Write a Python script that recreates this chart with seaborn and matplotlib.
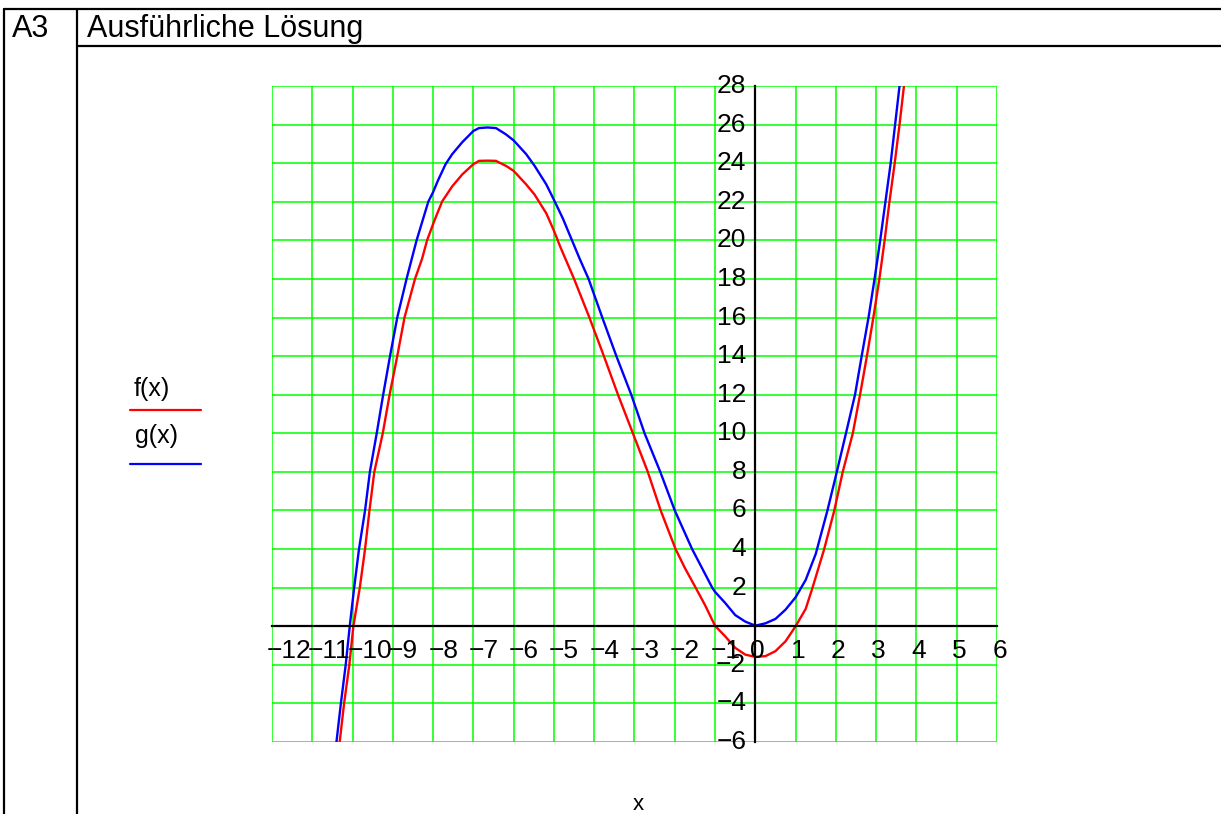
import matplotlib
matplotlib.use("Agg")
import matplotlib.pyplot as plt
import seaborn as sns
from matplotlib.lines import Line2D

# values: f(x) red, g(x) blue
f_x = [-10.32, -10.21, -10.08, -9.98, -9.82, -9.69, -9.58, -9.46, -9.25, -9.08,
       -8.89, -8.71, -8.45, -8.275, -8.15, -7.98, -7.775, -7.525, -7.275, -7.00,
       -6.86, -6.65, -6.44, -6.19, -6.00, -5.69, -5.48, -5.19, -5.00, -4.84,
       -4.50, -4.12, -3.76, -3.41, -3.04, -2.67, -2.35, -1.98, -1.75, -1.50,
       -1.25, -1.00, -0.75, -0.50, -0.25, 0.00, 0.25, 0.50, 0.75, 1.00,
       1.25, 1.42, 1.71, 1.96, 2.17, 2.42, 2.60, 2.77, 2.93, 3.08,
       3.21, 3.33, 3.46, 3.58, 3.69]
f_y = [-6, -4, -2, 0, 2, 4, 6, 8, 10, 12,
       14, 16, 18, 19.04, 20, 20.96, 22.02, 22.8, 23.42, 23.95,
       24.12, 24.13, 24.12, 23.86, 23.6, 22.9, 22.37, 21.4, 20.5, 19.65,
       18, 16, 14, 12, 10, 8, 6, 4, 3.02, 2.07,
       1.1, 0.02, -0.52, -1.12, -1.47, -1.59, -1.55, -1.29, -0.78, 0,
       0.9, 2, 4, 6, 8, 10, 12, 14, 16, 18,
       20, 22, 24, 26, 28]

g_x = [-10.40, -10.29, -10.17, -10.07, -9.96, -9.84, -9.69, -9.57, -9.40, -9.24,
       -9.07, -8.89, -8.66, -8.41, -8.12, -8.00, -7.88, -7.69, -7.525, -7.275,
       -7.00, -6.86, -6.65, -6.44, -6.19, -6.00, -5.69, -5.48, -5.19, -5.00,
       -4.78, -4.57, -4.36, -4.14, -3.80, -3.45, -3.08, -2.75, -2.36, -2.00,
       -1.57, -1.07, -1.00, -0.75, -0.50, -0.25, 0.00, 0.25, 0.50, 0.75,
       1.00, 1.25, 1.50, 1.79, 2.00, 2.25, 2.475, 2.64, 2.81,
       2.96, 3.10, 3.23, 3.36, 3.47, 3.58]
g_y = [-6, -4, -2, 0, 2, 4, 6, 8, 10, 12,
       14, 16, 18, 20, 22, 22.5, 23.1, 23.95, 24.47, 25.09,
       25.67, 25.82, 25.85, 25.82, 25.49, 25.18, 24.47, 23.86, 22.9, 22.1,
       21.14, 20.09, 19.04, 18, 16, 14, 12, 10, 8, 6,
       4, 2, 1.78, 1.21, 0.58, 0.24, 0.03, 0.15, 0.38, 0.86,
       1.5, 2.4, 3.75, 6, 7.8, 10, 12, 14, 16,
       18, 20, 22, 24, 26, 28]

x_ticks = list(range(-12, 7))
y_ticks = list(range(-6, 29, 2))

W, H = 1221, 814

sns.set_style("white")
plt.rcParams["font.family"] = ["Liberation Sans", "DejaVu Sans"]
plt.rcParams["text.color"] = "black"


def fx(px):
    return px / W


def fy(py):
    return 1 - py / H


fig = plt.figure(figsize=(W / 100, H / 100), dpi=100)

# table frame around the solution
frame = [
    ([4, 4], [9, H]),
    ([4, W], [9, 9]),
    ([77, 77], [9, H]),
    ([77, W], [46, 46]),
]
for xs, ys in frame:
    fig.add_artist(Line2D([fx(v) for v in xs], [fy(v) for v in ys],
                          color="black", lw=1.6, transform=fig.transFigure))
fig.text(fx(12), fy(29), "A3", fontsize=22, va="center", ha="left")
fig.text(fx(87), fy(29), "Ausführliche Lösung", fontsize=22, va="center", ha="left")

ax = fig.add_axes([fx(272), fy(742), 725 / W, 656 / H])

sns.lineplot(x=f_x, y=f_y, ax=ax, color="#ff0000", lw=1.7, estimator=None,
             sort=False, solid_joinstyle="round")
sns.lineplot(x=g_x, y=g_y, ax=ax, color="#0000ff", lw=1.7, estimator=None,
             sort=False, solid_joinstyle="round")

ax.set_xlim(-12, 6)
ax.set_ylim(-6, 28)
ax.set_xticks(x_ticks)
ax.set_yticks(y_ticks)
ax.grid(True, color="#00ff00", lw=1.1)
ax.set_axisbelow(True)
for gl in ax.get_xgridlines() + ax.get_ygridlines():
    gl.set_clip_on(False)

ax.spines["left"].set_position("zero")
ax.spines["bottom"].set_position("zero")
ax.spines["top"].set_visible(False)
ax.spines["right"].set_visible(False)
for s in ("left", "bottom"):
    ax.spines[s].set_linewidth(1.6)
    ax.spines[s].set_color("black")
    ax.spines[s].set_zorder(3)
ax.tick_params(axis="x", direction="inout", length=12, width=1.4,
               labelbottom=False, color="black")
ax.tick_params(axis="y", direction="inout", length=10, width=1.4,
               labelleft=False, color="black")


def lab(v):
    return str(v).replace("-", "\u2212")


for t in x_ticks:
    ax.annotate(lab(t), (t, 0), xytext=(-3.5, -9.5), textcoords="offset points",
                ha="left", va="top", fontsize=19, annotation_clip=False)
for t in y_ticks:
    if t == 0:
        continue
    ax.annotate(lab(t), (0, t), xytext=(-6.5, 0), textcoords="offset points",
                ha="right", va="center", fontsize=19, annotation_clip=False)

ax.set_xlabel("")
ax.set_ylabel("")

# legend as in the original: label above a coloured line
fig.text(fx(134), fy(396), "f(x)", fontsize=18, ha="left", va="baseline")
fig.add_artist(Line2D([fx(130), fx(201)], [fy(410), fy(410)], color="#ff0000",
                      lw=1.6, transform=fig.transFigure))
fig.text(fx(135), fy(443), "g(x)", fontsize=18, ha="left", va="baseline")
fig.add_artist(Line2D([fx(130), fx(201)], [fy(464), fy(464)], color="#0000ff",
                      lw=1.6, transform=fig.transFigure))

fig.text(fx(638), fy(804), "x", fontsize=16, ha="center", va="center")

fig.savefig("out.png", dpi=100)
